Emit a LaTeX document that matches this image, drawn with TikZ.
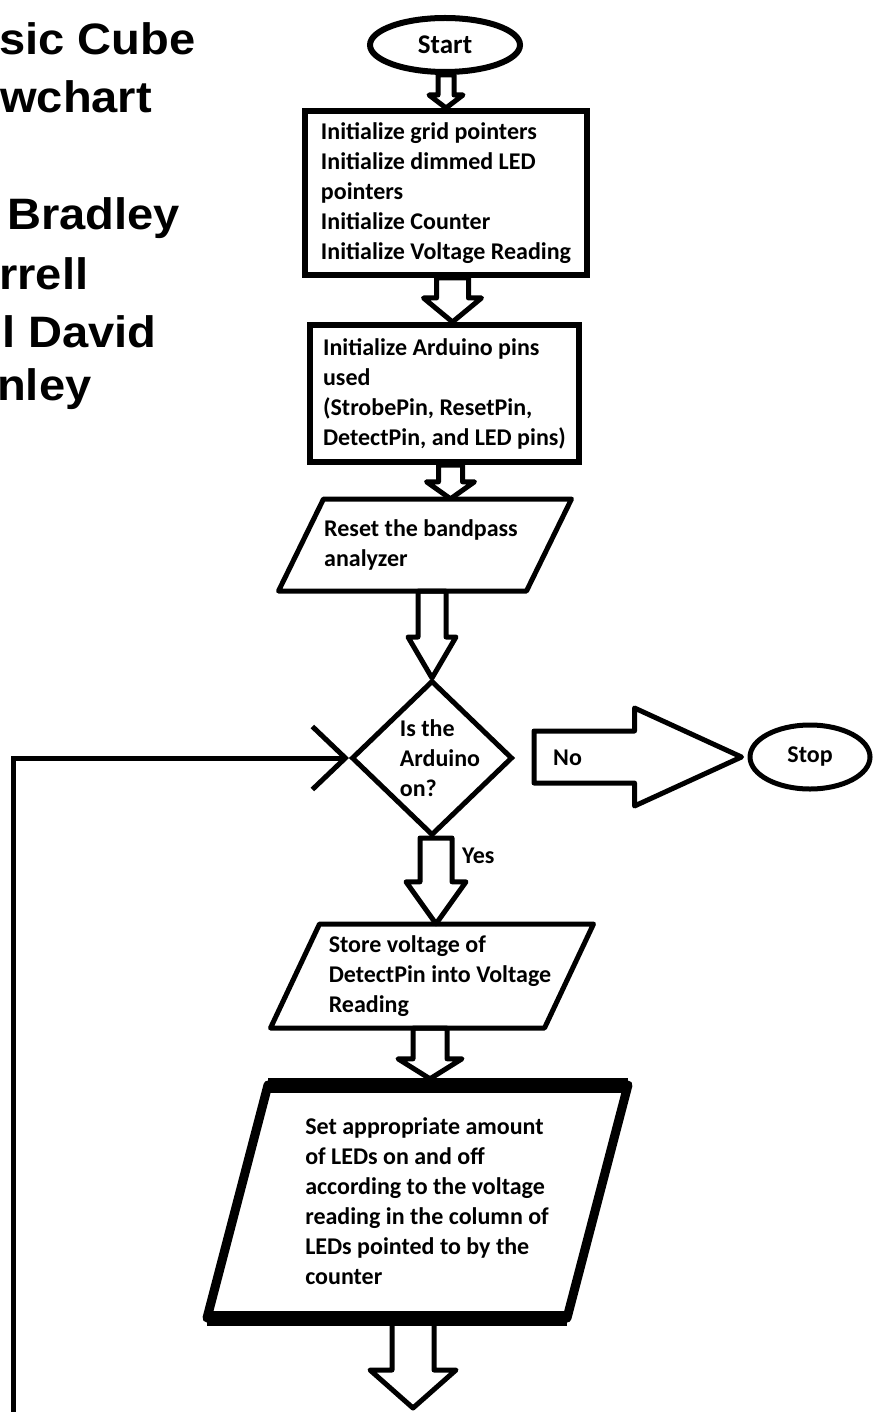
\documentclass[tikz,border=0pt]{standalone}
\usepackage{fontspec}
\usepackage{graphicx}
\setmainfont{Carlito}
\newfontfamily\titlefont{Liberation Sans}
\usetikzlibrary{calc,shapes.geometric,arrows.meta}
\newcommand{\BlockArrow}[5]{%
  \draw[blockarrow] let \p1=(#1), \p2=(#2) in
    (\x2-#3,\y1) -- (\x2-#3,\y2+#5) -- (\x2-#4,\y2+#5) -- (\p2)
    -- (\x2+#4,\y2+#5) -- (\x2+#3,\y2+#5) -- (\x2+#3,\y1) -- cycle;}
% parallelogram round a text node: name, half width, half height, half slant, x offset, style
\newcommand{\IOBox}[6]{%
  \coordinate (#1-tl) at ($(#1.center)+(#5-#2+#4,-#3)$);
  \coordinate (#1-tr) at ($(#1.center)+(#5+#2+#4,-#3)$);
  \coordinate (#1-br) at ($(#1.center)+(#5+#2-#4,#3)$);
  \coordinate (#1-bl) at ($(#1.center)+(#5-#2-#4,#3)$);
  \draw[iobox,#6] (#1-tl) -- (#1-tr) -- (#1-br) -- (#1-bl) -- cycle;}
\newcommand{\Head}[1]{\scalebox{1.07}[1]{#1}}

\begin{document}
\begin{tikzpicture}[x=1pt,y=-1pt,
  every node/.style={font=\fontsize{24}{30}\selectfont\bfseries},
  terminal/.style={ellipse, draw, line width=6pt, inner sep=2pt},
  procbox/.style={rectangle, draw, line width=6pt, align=left},
  iotext/.style={rectangle, inner sep=0pt, align=left},
  iobox/.style={line width=5pt, line join=round},
  decision/.style={diamond, draw, line width=5pt},
  blockarrow/.style={draw, line width=5pt, line join=round},
  heading/.style={anchor=base west, inner sep=0pt, font=\titlefont\fontsize{44}{44}\selectfont\bfseries}]

\fill[white] (0,0) rectangle (875,1412);
\useasboundingbox (0,0) rectangle (875,1412);

% title, cut at the left edge
\node[heading] (t1) at (-1,55) {\Head{sic Cube}};
\node[heading] (t2) at (0,113) {\Head{wchart}};
\node[heading] (t3) at (7,230) {\Head{Bradley}};
\node[heading] (t4) at (-1,290) {\Head{rrell}};
\node[heading] (t5) at (2,347) {\Head{l David}};
\node[heading] (t6) at (-3,400) {\Head{nley}};

\node[terminal, minimum width=150pt, minimum height=54pt, font=\fontsize{27}{30}\selectfont\bfseries] (start) at (445,45) {Start};
\node[procbox, minimum width=282pt, minimum height=164pt] (init) at (446,193) {Initialize grid pointers\\Initialize dimmed LED\\pointers\\Initialize Counter\\Initialize Voltage Reading};
\node[procbox, minimum width=269pt, minimum height=137pt] (pins) at (444.5,393.5) {Initialize Arduino pins\\used\\(StrobePin, ResetPin,\\DetectPin, and LED pins)};
\node[iotext, minimum height=92pt] (reset) at (421,545) {Reset the bandpass\\analyzer};
\IOBox{reset}{124}{46}{22.5}{4}{}
\node[decision, minimum width=161pt, minimum height=155pt] (ison) at (432,758) {};
\node[align=left] (isontext) at ($(ison.center)+(8,0)$) {Is the\\Arduino\\on?};
\node[terminal, line width=5pt, minimum width=120pt, minimum height=64pt] (stop) at (810,757) {Stop};
\node[iotext, minimum height=104pt] (store) at (440,976) {Store voltage of\\DetectPin into Voltage\\Reading};
\IOBox{store}{137}{52}{24.5}{-8}{}
\node[iotext, minimum height=233pt] (setleds) at (427,1201.5) {Set appropriate amount\\of LEDs on and off\\according to the voltage\\reading in the column of\\LEDs pointed to by the\\counter};
\IOBox{setleds}{180}{116.5}{30.5}{-9.5}{line width=9pt}
\draw[line width=15pt] (setleds-tl) -- (setleds-tr);
\draw[line width=15pt] (setleds-bl) -- (setleds-br);

\BlockArrow{start.south}{init.north}{8pt}{17pt}{13pt}
\BlockArrow{init.south}{$(pins.north)+(8,0)$}{16pt}{29pt}{24pt}
\BlockArrow{pins.south}{$(reset.north -| pins.south)+(6,0)$}{12pt}{24pt}{17pt}
\BlockArrow{reset.south}{ison.north}{14pt}{24pt}{41pt}
\BlockArrow{ison.south}{$(store.north -| ison.south)+(4,0)$}{16pt}{30pt}{42pt}
\BlockArrow{store.south}{$(setleds.north -| ison.south)+(-2,-6)$}{17pt}{32pt}{20pt}
\coordinate (exit) at (413,1408);
\BlockArrow{setleds.south}{exit}{21pt}{43pt}{38pt}

% No branch
\draw[blockarrow] let \p1=(ison.east), \p2=($(stop.west)-(6,0)$) in
  (\x1+19pt,\y2+26pt) -- (\x2-107pt,\y2+26pt) -- (\x2-107pt,\y2+49pt) -- (\p2)
  -- (\x2-107pt,\y2-49pt) -- (\x2-107pt,\y2-26pt) -- (\x1+19pt,\y2-26pt) -- cycle;
\node[anchor=base west, inner sep=0pt] (no) at ($(ison.east)+(38,7)$) {No};
\node[anchor=base west, inner sep=0pt] (yes) at ($(ison.south)+(30,25)$) {Yes};

% loop back
\coordinate (loopfoot) at (13,1412);
\draw[line width=5pt, -{Straight Barb[length=33pt,width=63pt]}] (loopfoot) |- (ison.west);

\end{tikzpicture}
\end{document}
